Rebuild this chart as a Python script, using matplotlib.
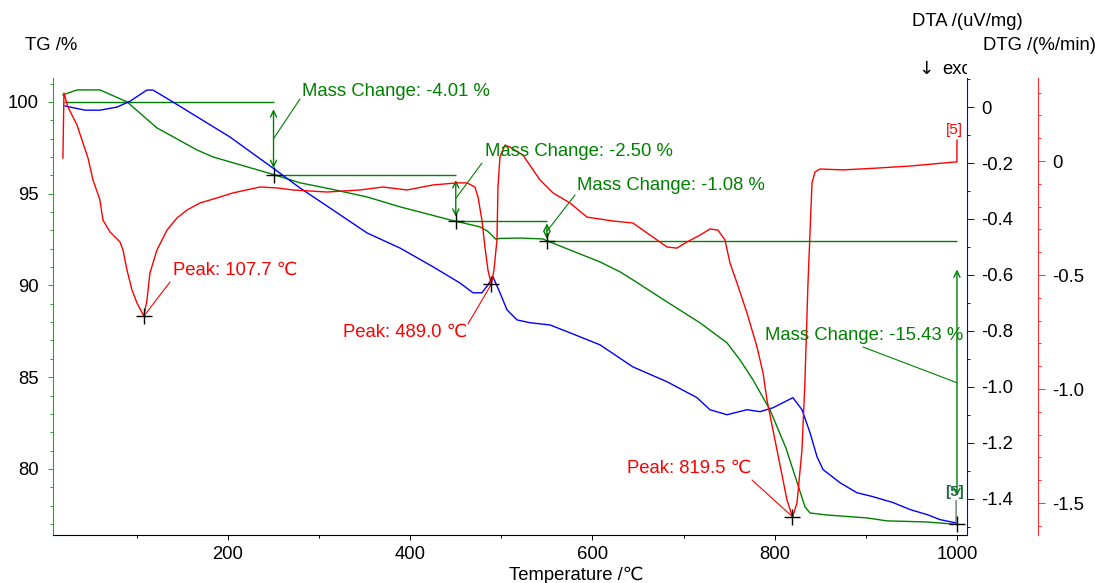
import matplotlib
matplotlib.use('Agg')
import matplotlib.pyplot as plt
from matplotlib.ticker import FixedLocator, FuncFormatter, MultipleLocator
from matplotlib.transforms import Bbox, TransformedBbox

plt.rcParams['font.family'] = ['Liberation Sans', 'DejaVu Sans']
plt.rcParams['axes.unicode_minus'] = False

# ---------------- data ----------------
tg_temp = [18.9, 34.3, 59.5, 89.2, 122.1, 166.0, 183.5, 249.4, 279.0, 312.0, 352.6, 388.8, 443.7,
           476.5, 485.0, 494.0, 498.5, 520.0, 545.7, 550.1, 608.2, 630.2, 644.4, 681.8, 718.0,
           747.6, 761.9, 776.2, 794.8, 812.3, 824.4, 833.2, 838.7, 857.3, 901.2, 923.1, 967.0, 1000.0]
tg_val = [100.38, 100.65, 100.65, 100.0, 98.58, 97.38, 97.0, 96.05, 95.59, 95.26, 94.82, 94.28, 93.57,
          93.19, 92.95, 92.52, 92.56, 92.58, 92.53, 92.43, 91.28, 90.74, 90.30, 89.10, 87.96,
          86.87, 85.94, 84.85, 83.22, 81.14, 79.29, 77.93, 77.60, 77.49, 77.33, 77.17, 77.11, 76.98]

dta_temp = [21.2, 43.1, 59.5, 78.2, 92.5, 111.1, 117.7, 139.7, 202.2, 249.4, 279.0, 315.2, 352.6,
            388.8, 425.0, 454.6, 468.9, 478.7, 485.3, 490.8, 498.5, 506.2, 517.2, 531.4, 553.4,
            575.3, 608.2, 644.4, 681.8, 714.7, 728.9, 747.6, 769.6, 783.8, 798.1, 820.0, 829.9,
            838.7, 846.4, 853.0, 871.6, 890.3, 907.9, 929.8, 948.5, 967.2, 981.4, 997.9]
dta_val = [0.004, -0.011, -0.011, 0.0, 0.021, 0.061, 0.061, 0.018, -0.107, -0.218, -0.289, -0.368, -0.450,
           -0.504, -0.571, -0.629, -0.664, -0.664, -0.636, -0.607, -0.664, -0.725, -0.761, -0.771, -0.779,
           -0.807, -0.850, -0.929, -0.982, -1.039, -1.082, -1.100, -1.082, -1.089, -1.075, -1.039, -1.082,
           -1.164, -1.250, -1.296, -1.343, -1.379, -1.393, -1.414, -1.439, -1.457, -1.475, -1.486]

dtg_temp = [18.9, 20.0, 24.4, 34.3, 46.4, 51.9, 59.5, 62.8, 70.5, 81.5, 84.8, 89.2, 94.7, 100.2, 107.7,
            111.1, 114.4, 122.1, 133.1, 144.0, 155.0, 169.3, 187.9, 205.5, 235.1, 253.8, 271.3, 308.6,
            344.9, 370.1, 396.4, 425.0, 451.3, 462.3, 471.0, 474.4, 478.7, 482.0, 485.3, 489.0, 491.9,
            495.2, 496.3, 498.5, 504.0, 509.5, 523.7, 542.4, 556.7, 575.3, 594.0, 622.5, 644.4, 655.4,
            670.8, 681.8, 692.7, 703.7, 718.0, 728.9, 737.7, 745.4, 750.9, 758.6, 769.6, 780.6, 787.2,
            791.5, 802.5, 813.5, 819.5, 824.4, 829.9, 833.1, 836.5, 838.7, 840.9, 844.2, 849.7, 874.9,
            912.3, 948.5, 984.7, 999.0]
dtg_val = [0.013, 0.298, 0.237, 0.158, 0.013, -0.083, -0.171, -0.259, -0.311, -0.355, -0.390, -0.478,
           -0.566, -0.623, -0.68, -0.610, -0.491, -0.390, -0.303, -0.250, -0.215, -0.184, -0.162, -0.140,
           -0.114, -0.118, -0.127, -0.136, -0.127, -0.114, -0.127, -0.105, -0.096, -0.096, -0.114, -0.158,
           -0.259, -0.377, -0.478, -0.54, -0.478, -0.346, -0.114, 0.018, 0.070, 0.061, 0.026, -0.083,
           -0.140, -0.184, -0.246, -0.263, -0.272, -0.303, -0.346, -0.377, -0.382, -0.355, -0.325, -0.298,
           -0.303, -0.346, -0.447, -0.535, -0.667, -0.816, -0.930, -1.048, -1.268, -1.487, -1.561, -1.500,
           -1.268, -0.974, -0.535, -0.316, -0.096, -0.048, -0.035, -0.039, -0.031, -0.022, -0.009, -0.004]

step_temps = [20, 250, 450, 550, 1000]
step_levels = [100.0, 95.99, 93.49, 92.41, 76.98]
mass_changes = [-4.01, -2.50, -1.08, -15.43]
peak_temps = [107.7, 489.0, 819.5]
peak_dtg = [-0.68, -0.54, -1.56]

x_major = [200, 400, 600, 800, 1000]
tg_major = [80, 85, 90, 95, 100]
dta_major = [-1.4, -1.2, -1.0, -0.8, -0.6, -0.4, -0.2, 0.0]
dtg_major = [-1.5, -1.0, -0.5, 0.0]

# ---------------- layout ----------------
W, H, DPI = 1095, 583, 100
FS = 13.3
GREEN = '#008000'
BLUE = '#0000ff'
RED = '#ff0000'

fig = plt.figure(figsize=(W / DPI, H / DPI), dpi=DPI)
ax = fig.add_axes([53 / W, 48 / H, 914 / W, 457 / H])
ax2 = ax.twinx()
ax3 = ax.twinx()

for a in (ax, ax2, ax3):
    a.patch.set_visible(False)
    for s in a.spines.values():
        s.set_visible(False)
        s.set_linewidth(0.8)

ax.spines['left'].set_visible(True)
ax.spines['left'].set_color('#2ea02e')
ax.spines['bottom'].set_visible(True)
ax.spines['bottom'].set_color('black')
ax2.spines['right'].set_visible(True)
ax2.spines['right'].set_color(BLUE)
ax3.spines['right'].set_visible(True)
ax3.spines['right'].set_color('#ff3030')
ax3.spines['right'].set_position(('outward', 71 * 72 / DPI))

ax.set_xlim(8, 1011)
ax.set_ylim(76.4, 101.3)
ax2.set_ylim(-1.53, 0.104)
ax3.set_ylim(-1.64, 0.364)

ax.xaxis.set_major_locator(FixedLocator(x_major))
ax.xaxis.set_minor_locator(FixedLocator([100, 300, 500, 700, 900]))
ax.yaxis.set_major_locator(FixedLocator(tg_major))
ax.yaxis.set_minor_locator(MultipleLocator(1))
ax2.yaxis.set_major_locator(FixedLocator(dta_major))
ax2.yaxis.set_minor_locator(MultipleLocator(0.1))
ax3.yaxis.set_major_locator(FixedLocator(dtg_major))
ax3.yaxis.set_minor_locator(MultipleLocator(0.1))

def fmt1(v, pos):
    return '0' if abs(v) < 1e-9 else f'{v:.1f}'

ax2.yaxis.set_major_formatter(FuncFormatter(fmt1))
ax3.yaxis.set_major_formatter(FuncFormatter(fmt1))
ax.yaxis.set_major_formatter(FuncFormatter(lambda v, p: f'{v:.0f}'))
ax.xaxis.set_major_formatter(FuncFormatter(lambda v, p: f'{v:.0f}'))

ax.tick_params(axis='x', which='major', length=3.6, width=0.7, color='black', labelsize=FS, pad=4)
ax.tick_params(axis='x', which='minor', length=2.2, width=0.7, color='black')
ax.tick_params(axis='y', which='major', length=3.6, width=0.7, color='#2ea02e', labelsize=FS, pad=6.5)
ax.tick_params(axis='y', which='minor', length=2.4, width=0.7, color='#2ea02e')
ax2.tick_params(axis='y', which='major', length=5, width=0.7, color=BLUE, labelsize=FS, pad=5)
ax2.tick_params(axis='y', which='minor', length=2.5, width=0.7, color=BLUE)
ax3.tick_params(axis='y', which='major', length=5, width=0.7, color='#ff3030', labelsize=FS, pad=5)
ax3.tick_params(axis='y', which='minor', length=2.5, width=0.7, color='#ff3030')

# ---------------- curves ----------------
ax.plot(tg_temp, tg_val, color=GREEN, lw=1.0, zorder=3)
ax2.plot(dta_temp, dta_val, color=BLUE, lw=1.0, zorder=3)
ax3.plot(dtg_temp, dtg_val, color=RED, lw=1.0, zorder=3)

# ---------------- mass change steps ----------------
for i in range(4):
    ax.hlines(step_levels[i], step_temps[i], step_temps[i + 1], color=GREEN, lw=1.0)
    x = step_temps[i + 1]
    top, bot = step_levels[i], step_levels[i + 1]
    d = top - bot
    ax.annotate('', xy=(x, bot + 0.1 * d), xytext=(x, top - 0.1 * d),
                arrowprops=dict(arrowstyle='<->,head_length=0.45,head_width=0.22',
                                color=GREEN, lw=1.0, shrinkA=0, shrinkB=0))
ax.plot(step_temps[1:], step_levels[1:], '+', color='black', ms=11, mew=1.0, zorder=5)

mc_text_pos = [(302, 92), (485, 152), (577, 185), (765, 335)]
mc_leader_start = [(300, 99), (482, 163), (575, 195), (863, 347)]
for i, mc in enumerate(mass_changes):
    tx, ty = mc_text_pos[i]
    fig.text(tx / W, 1 - ty / H, f'Mass Change: {mc:.2f} %', color=GREEN, fontsize=FS,
             ha='left', va='center')
    x = step_temps[i + 1]
    mid = (step_levels[i] + step_levels[i + 1]) / 2
    sx, sy = mc_leader_start[i]
    ax.annotate('', xy=(x, mid), xycoords='data', xytext=(sx, H - sy), textcoords='figure pixels',
                arrowprops=dict(arrowstyle='-', color=GREEN, lw=0.8, shrinkA=0, shrinkB=0))

# ---------------- peaks ----------------
ax3.plot(peak_temps, peak_dtg, '+', color='black', ms=11, mew=1.0, zorder=5)
pk_text_pos = [(173, 270), (343, 332), (627, 468)]
pk_leader_start = [(170, 282), (468, 324), (752, 480)]
for i, pt in enumerate(peak_temps):
    tx, ty = pk_text_pos[i]
    fig.text(tx / W, 1 - ty / H, f'Peak: {pt:.1f} \u2103', color=RED, fontsize=FS,
             ha='left', va='center')
    sx, sy = pk_leader_start[i]
    ax3.annotate('', xy=(pt, peak_dtg[i]), xycoords='data', xytext=(sx, H - sy),
                 textcoords='figure pixels',
                 arrowprops=dict(arrowstyle='-', color=RED, lw=0.8, shrinkA=0, shrinkB=0))

# end labels [5]
ax3.annotate('', xy=(dtg_temp[-1] + 1, dtg_val[-1]), xytext=(0, 22 * 72 / DPI), textcoords='offset points',
             arrowprops=dict(arrowstyle='-', color=RED, lw=1.0, shrinkA=0, shrinkB=0))
fig.text(954 / W, 1 - 130 / H, '[5]', color=RED, fontsize=11, ha='center', va='center')
ax.annotate('', xy=(tg_temp[-1] - 1, tg_val[-1]), xytext=(0, 24 * 72 / DPI), textcoords='offset points',
            arrowprops=dict(arrowstyle='-', color='#2f5f4f', lw=0.8, shrinkA=0, shrinkB=0))
fig.text(955 / W, 1 - 492 / H, '[5]', color='#1f7048', fontsize=11, fontweight='bold',
         ha='center', va='center')

# ---------------- axis titles ----------------
fig.text(25 / W, 1 - 45 / H, 'TG /%', fontsize=FS, ha='left', va='center')
fig.text(912 / W, 1 - 21 / H, 'DTA /(uV/mg)', fontsize=FS, ha='left', va='center')
fig.text(983 / W, 1 - 45 / H, 'DTG /(%/min)', fontsize=FS, ha='left', va='center')
fig.text(926 / W, 1 - 69 / H, '\u2193', fontsize=FS, family='DejaVu Sans', ha='center', va='center')
exo = fig.text(942 / W, 1 - 69 / H, 'exo', fontsize=FS, ha='left', va='center')
exo.set_clip_box(TransformedBbox(Bbox([[0, 0], [967 / W, 1]]), fig.transFigure))
exo.set_clip_on(True)
fig.text(576 / W, 1 - 575 / H, 'Temperature /\u2103', fontsize=FS, ha='center', va='center')

fig.savefig('out.png', dpi=DPI)
